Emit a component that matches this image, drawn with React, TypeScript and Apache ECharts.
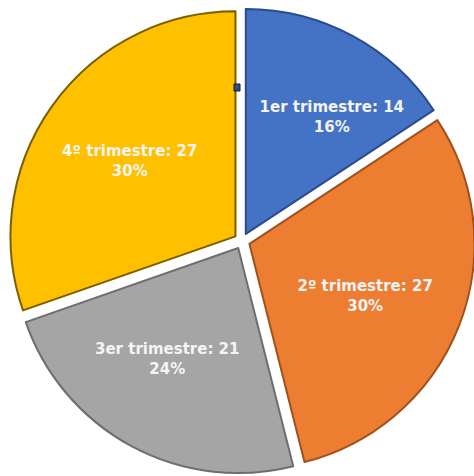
import React, { useEffect, useRef } from "react";
import * as echarts from "echarts";

const categories = ["1er trimestre", "2º trimestre", "3er trimestre", "4º trimestre"];
const values = [14, 27, 21, 27];
const colors = ["#4472C4", "#ED7D31", "#A5A5A5", "#FFC000"];
const borderColors = ["#2B4C8A", "#9E5220", "#6E6E6E", "#7A5E00"];
// small label nudges (style only)
const labelShift = [
  [21, 4],
  [-12, 2],
  [-6, -10],
  [6, 4],
];

export default function App() {
  const ref = useRef<HTMLDivElement>(null);
  useEffect(() => {
    document.body.style.margin = "0";
    const chart = echarts.init(ref.current!, undefined, { renderer: "svg" });
    const mainData = categories.map((name, i) => ({
      name,
      value: values[i],
      selected: true,
      itemStyle: { color: colors[i], borderColor: borderColors[i], borderWidth: 2 },
    }));
    const labelData = categories.map((name, i) => ({
      name,
      value: values[i],
      selected: true,
    }));
    const center = [242, 241];
    const R = 225;
    chart.setOption({
      animation: false,
      backgroundColor: "#ffffff",
      series: [
        {
          type: "pie",
          center,
          radius: [0, R],
          startAngle: 90,
          clockwise: true,
          selectedMode: "multiple",
          selectedOffset: 8,
          silent: true,
          label: { show: false },
          labelLine: { show: false },
          emphasis: { disabled: true },
          data: mainData,
        },
        {
          type: "pie",
          center,
          radius: [43, R],
          startAngle: 90,
          clockwise: true,
          selectedMode: "multiple",
          selectedOffset: 8,
          silent: true,
          percentPrecision: 0,
          itemStyle: { color: "rgba(0,0,0,0)", borderWidth: 0 },
          emphasis: { disabled: true },
          labelLine: { show: false },
          label: {
            show: true,
            position: "inside",
            formatter: "{b}: {c}\n{d}%",
            color: "#f4f4f4",
            fontFamily: "DejaVu Sans, sans-serif",
            fontWeight: "bold",
            fontSize: 15,
            lineHeight: 20,
            align: "center",
          },
          labelLayout: (p: any) => ({
            dx: labelShift[p.dataIndex][0],
            dy: labelShift[p.dataIndex][1],
          }),
          data: labelData,
        },
      ],
      graphic: [
        {
          type: "rect",
          shape: { x: 234, y: 84, width: 6, height: 7 },
          style: { fill: "#2d4f8a", stroke: "#1a1a1a", lineWidth: 1 },
          z: 100,
        },
      ],
    });
    return () => chart.dispose();
  }, []);
  return (
    <div
      ref={ref}
      style={{ position: "fixed", left: 0, top: 0, width: 474, height: 476 }}
    />
  );
}
